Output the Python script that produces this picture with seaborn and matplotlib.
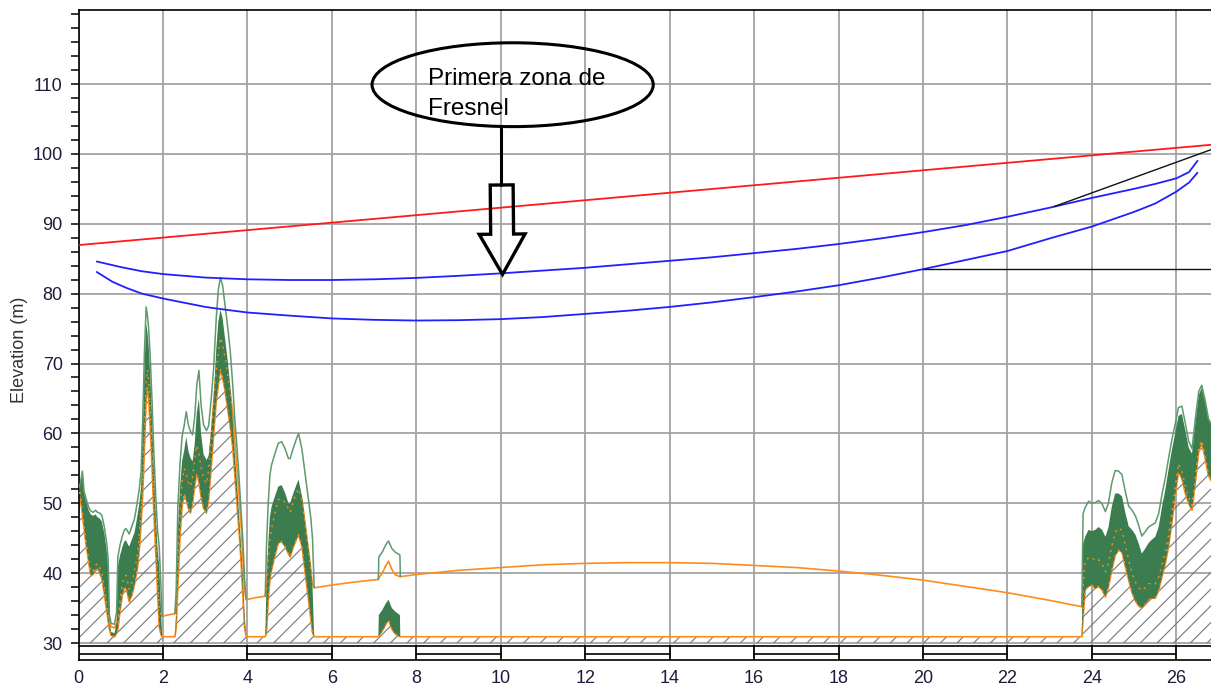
import numpy as np
import pandas as pd
import matplotlib
matplotlib.use("Agg")
import matplotlib.pyplot as plt
import seaborn as sns
from matplotlib.patches import Ellipse, FancyArrowPatch, ArrowStyle
from matplotlib.ticker import FixedLocator

# ---------------- path profile (km, m) ----------------
# distance along the path
KM = [
    0.00, 0.03, 0.09, 0.13, 0.18, 0.24, 0.29, 0.34, 0.40, 0.45, 0.50, 0.55, 0.61, 0.66, 0.70, 0.73,
    0.77, 0.85, 0.90, 0.93, 0.98, 1.04, 1.08, 1.12, 1.16, 1.20, 1.26, 1.32, 1.36, 1.40, 1.44, 1.48,
    1.52, 1.56, 1.60, 1.63, 1.66, 1.70, 1.74, 1.78, 1.83, 1.87, 1.91, 1.95, 1.98, 2.10, 2.28,
    2.31, 2.35, 2.40, 2.45, 2.50, 2.55, 2.60, 2.65, 2.70, 2.75, 2.80, 2.85, 2.90, 2.96, 3.03, 3.08,
    3.14, 3.20, 3.26, 3.31, 3.36, 3.41, 3.47, 3.53, 3.59, 3.65, 3.70, 3.75, 3.80, 3.85, 3.89, 3.93,
    3.97, 4.20,
    4.42, 4.45, 4.49, 4.53, 4.57, 4.65, 4.73, 4.81, 4.89, 4.97, 5.01, 5.09, 5.17, 5.21, 5.29, 5.36,
    5.44, 5.50, 5.54, 5.58, 6.00, 6.50,
    7.10, 7.11, 7.20, 7.27, 7.34, 7.42, 7.50, 7.61, 7.62,
    8, 9, 10, 11, 12, 13, 14, 15, 16, 17, 18, 19, 20, 21, 22, 23, 23.5,
    23.76, 23.79, 23.84, 23.92, 24.00, 24.08, 24.16, 24.24, 24.32, 24.39, 24.47, 24.55, 24.63, 24.71,
    24.79, 24.87, 24.95, 25.03, 25.11, 25.18, 25.26, 25.34, 25.42, 25.50, 25.58, 25.66, 25.74, 25.82,
    25.89, 25.97, 26.05, 26.13, 26.21, 26.29, 26.37, 26.45, 26.53, 26.60, 26.68, 26.76, 26.83,
]
# bare terrain elevation
GROUND = [
    52.6, 51.5, 48.5, 46.5, 44.0, 41.5, 39.6, 39.8, 40.5, 40.7, 40.0, 39.2, 37.0, 34.8, 33.2, 32.0,
    31.1, 30.9, 31.4, 32.0, 34.5, 37.0, 37.8, 38.0, 37.0, 35.9, 36.8, 38.2, 39.5, 40.9, 43.5, 47.0,
    51.5, 58.0, 64.5, 66.7, 65.0, 60.5, 55.0, 49.0, 42.5, 37.0, 32.3, 31.2, 30.9, 30.9, 30.9,
    32.0, 38.0, 45.0, 49.5, 51.4, 50.5, 49.3, 48.6, 50.0, 52.5, 54.3, 53.0, 51.0, 49.3, 48.6, 50.5,
    55.0, 60.0, 64.5, 67.0, 69.1, 68.0, 66.0, 63.5, 61.0, 58.0, 54.0, 50.0, 46.0, 41.5, 37.0, 32.3,
    30.9, 30.9,
    30.9, 31.5, 36.0, 39.0, 40.4, 42.5, 44.3, 44.5, 43.8, 42.8, 42.3, 43.8, 45.0, 45.5, 43.8, 40.4,
    36.6, 33.5, 31.5, 30.9, 30.9, 30.9,
    30.9, 31.0, 31.8, 32.6, 33.3, 32.0, 31.3, 30.9, 30.9,
    30.9, 30.9, 30.9, 30.9, 30.9, 30.9, 30.9, 30.9, 30.9, 30.9, 30.9, 30.9, 30.9, 30.9, 30.9, 30.9, 30.9,
    30.9, 33.5, 37.6, 38.1, 38.3, 37.8, 38.1, 37.6, 36.6, 38.0, 40.4, 42.5, 43.3, 43.0,
    41.0, 39.0, 37.2, 36.0, 35.3, 35.0, 35.5, 36.2, 36.4, 36.4, 37.5, 39.5, 41.4, 44.0,
    47.0, 51.0, 54.5, 53.5, 51.5, 50.0, 49.0, 53.0, 57.5, 58.6, 56.5, 54.0, 53.2,
]
# top of vegetation / clutter
CLUTTER = [
    52.6, 52.5, 54.5, 51.5, 50.3, 49.0, 48.4, 48.2, 48.4, 48.0, 47.8, 47.4, 45.7, 43.5, 41.0, 33.0,
    31.6, 31.4, 33.0, 40.9, 42.5, 43.8, 44.5, 44.7, 44.2, 43.8, 44.8, 45.7, 47.0, 48.5, 50.0, 52.4,
    60.0, 69.5, 75.7, 74.5, 72.5, 68.0, 62.0, 55.0, 48.0, 43.5, 40.9, 35.0, 30.9, 30.9, 30.9,
    34.0, 46.0, 52.0, 56.0, 57.5, 59.5, 57.5, 56.5, 56.0, 58.5, 63.0, 65.0, 60.0, 57.0, 56.2, 56.8,
    60.5, 65.0, 72.0, 76.0, 77.7, 76.5, 73.5, 70.5, 67.0, 62.0, 57.0, 53.0, 48.5, 43.5, 39.5, 34.0,
    30.9, 30.9,
    30.9, 38.0, 44.0, 48.0, 49.5, 51.0, 52.4, 52.6, 51.5, 50.0, 50.0, 51.5, 52.8, 53.4, 51.0, 47.6,
    43.8, 41.0, 38.0, 30.9, 30.9, 30.9,
    30.9, 34.0, 34.8, 35.6, 36.2, 35.0, 34.5, 34.0, 30.9,
    30.9, 30.9, 30.9, 30.9, 30.9, 30.9, 30.9, 30.9, 30.9, 30.9, 30.9, 30.9, 30.9, 30.9, 30.9, 30.9, 30.9,
    30.9, 44.2, 45.2, 46.2, 46.0, 46.2, 46.6, 46.2, 45.2, 46.5, 49.5, 51.4, 51.4, 51.0,
    48.7, 46.7, 46.2, 45.5, 44.2, 42.8, 43.5, 44.3, 44.8, 45.2, 46.6, 49.5, 52.0, 55.0,
    57.5, 60.0, 62.5, 62.8, 60.5, 58.0, 57.1, 61.5, 65.5, 66.5, 64.5, 62.0, 61.3,
]
# earth bulge (k = 4/3) added to the profile
BULGE = [
    0.0, 0.0, 0.1, 0.2, 0.3, 0.4, 0.5, 0.5, 0.6, 0.7, 0.8, 0.9, 0.9, 1.0, 1.1, 1.1,
    1.2, 1.3, 1.4, 1.4, 1.5, 1.6, 1.6, 1.7, 1.8, 1.8, 1.9, 2.0, 2.0, 2.1, 2.2, 2.2,
    2.3, 2.3, 2.4, 2.4, 2.5, 2.5, 2.6, 2.6, 2.7, 2.7, 2.8, 2.9, 2.9, 3.1, 3.3,
    3.3, 3.4, 3.5, 3.5, 3.6, 3.6, 3.7, 3.8, 3.8, 3.9, 4.0, 4.0, 4.1, 4.2, 4.2, 4.3,
    4.4, 4.5, 4.5, 4.6, 4.6, 4.7, 4.8, 4.8, 4.9, 5.0, 5.0, 5.1, 5.2, 5.2, 5.3, 5.3,
    5.3, 5.6,
    5.8, 5.9, 5.9, 6.0, 6.0, 6.1, 6.2, 6.2, 6.3, 6.4, 6.4, 6.5, 6.6, 6.6, 6.7, 6.8,
    6.9, 6.9, 6.9, 7.0, 7.4, 7.8,
    8.2, 8.3, 8.3, 8.4, 8.4, 8.5, 8.5, 8.6, 8.6,
    8.9, 9.5, 9.9, 10.3, 10.5, 10.6, 10.6, 10.5, 10.2, 9.9, 9.4, 8.8, 8.1, 7.2, 6.3, 5.2, 4.6,
    4.3, 4.3, 4.2, 4.1, 4.0, 3.9, 3.8, 3.7, 3.6, 3.5, 3.4, 3.3, 3.2, 3.1,
    3.0, 2.9, 2.8, 2.7, 2.6, 2.5, 2.4, 2.3, 2.1, 2.0, 1.9, 1.8, 1.7, 1.6,
    1.5, 1.3, 1.2, 1.1, 1.0, 0.9, 0.7, 0.6, 0.5, 0.4, 0.3, 0.1, 0.0,
]

# Fresnel zone boundaries
FZ1_KM = [0.43, 1.0, 1.5, 2.0, 3.0, 4.0, 5.0, 6.0, 7.0, 8.0, 9.0, 10.0, 11.0, 12.0, 13.0, 14.0,
          15.0, 16.0, 17.0, 18.0, 19.0, 20.0, 21.0, 22.0, 23.0, 24.0, 25.0, 25.5, 26.0, 26.3, 26.5]
FZ1_ELEV = [84.6, 83.8, 83.2, 82.8, 82.3, 82.05, 81.95, 81.95, 82.05, 82.25, 82.55, 82.9, 83.3,
            83.7, 84.2, 84.7, 85.2, 85.8, 86.4, 87.1, 87.9, 88.8, 89.8, 91.0, 92.3, 93.7, 95.0,
            95.7, 96.5, 97.4, 99.0]
FZ2_KM = [0.43, 0.8, 1.14, 1.5, 2.0, 3.0, 3.35, 4.0, 5.0, 6.0, 7.0, 8.0, 9.0, 10.0, 11.0, 12.0,
          13.0, 14.0, 15.0, 16.0, 17.0, 18.0, 19.0, 20.0, 21.0, 22.0, 23.0, 24.0, 25.0, 25.5,
          26.0, 26.3, 26.5]
FZ2_ELEV = [83.1, 81.7, 80.8, 80.0, 79.3, 78.1, 77.8, 77.3, 76.85, 76.45, 76.25, 76.15, 76.2,
            76.35, 76.65, 77.1, 77.55, 78.1, 78.75, 79.5, 80.3, 81.2, 82.3, 83.5, 84.8, 86.1,
            87.9, 89.6, 91.7, 92.9, 94.6, 95.9, 97.3]

# line of sight and reference lines
LOS_KM = [0.0, 26.82]
LOS_ELEV = [86.95, 101.3]
REF1_KM = [23.1, 26.82]
REF1_ELEV = [92.45, 100.6]
REF2_KM = [20.0, 26.82]
REF2_ELEV = [83.5, 83.5]

X_TICKS = list(range(0, 27, 2))
Y_TICKS = list(range(30, 111, 10))
Y_MINOR = [v for v in range(30, 121, 2) if v % 10 != 0 or v > 110]
Y_LABEL = "Elevation (m)"
NOTE_TEXT = "Primera zona de\nFresnel"

assert len(KM) == len(GROUND) == len(CLUTTER) == len(BULGE)

# ---------------- figure ----------------
sns.set_theme(style="white")
plt.rcParams["font.family"] = ["Liberation Sans", "DejaVu Sans"]
plt.rcParams["hatch.linewidth"] = 0.8

W, H = 1211, 687
fig = plt.figure(figsize=(W / 100, H / 100), dpi=100, facecolor="white")
ax = fig.add_axes([78.6 / W, 27 / H, 1 - 78.6 / W, 650 / H])
ax.set_facecolor("white")

XMAX = 26.82
YMIN, YMAX = 27.57, 120.59
ax.set_xlim(0, XMAX)
ax.set_ylim(YMIN, YMAX)

km = np.array(KM, float)
ground = np.array(GROUND, float)
clutter = np.array(CLUTTER, float)
bulge = np.array(BULGE, float)
ground_k = ground + bulge
clutter_k = clutter + bulge
veg = clutter > ground + 0.05
veg_edge = veg | np.roll(veg, 1) | np.roll(veg, -1)

ORANGE = "#ff8c1a"
GREEN = "#3b7d4e"
LIGHT_GREEN = "#5d9a6c"

# terrain hatch
ax.fill_between(km, 30, ground, facecolor="none", edgecolor="#767676",
                hatch="//", linewidth=0, zorder=1)
# orange profiles (bare and with earth bulge)
ax.plot(km, ground, color=ORANGE, lw=1.2, zorder=2)
ax.plot(km, ground_k, color=ORANGE, lw=1.2, zorder=2)
# vegetation band
ax.fill_between(km, ground, clutter, where=veg_edge, facecolor=GREEN,
                edgecolor="none", linewidth=0, zorder=3)
ax.plot(km, np.where(veg_edge, ground, np.nan), color=ORANGE, lw=1.0,
        ls=(0, (1.5, 3.5)), zorder=4)
ax.plot(km, np.where(veg_edge, ground_k, np.nan), color=ORANGE, lw=1.0,
        ls=(0, (1.5, 3.5)), zorder=4)
ax.plot(km, np.where(veg_edge, clutter_k, np.nan), color=LIGHT_GREEN, lw=1.1, zorder=4)

# Fresnel zone, line of sight, reference lines
sns.lineplot(x=FZ1_KM, y=FZ1_ELEV, ax=ax, color="#2020ff", lw=1.3,
             estimator=None, sort=False, zorder=5)
sns.lineplot(x=FZ2_KM, y=FZ2_ELEV, ax=ax, color="#2020ff", lw=1.3,
             estimator=None, sort=False, zorder=5)
sns.lineplot(x=LOS_KM, y=LOS_ELEV, ax=ax, color="#ff1a1a", lw=1.3,
             estimator=None, sort=False, zorder=5)
sns.lineplot(x=REF1_KM, y=REF1_ELEV, ax=ax, color="#111111", lw=1.0,
             estimator=None, sort=False, zorder=5)
sns.lineplot(x=REF2_KM, y=REF2_ELEV, ax=ax, color="#111111", lw=1.0,
             estimator=None, sort=False, zorder=5)

# ---------------- axes styling ----------------
ax.xaxis.set_major_locator(FixedLocator(X_TICKS))
ax.yaxis.set_major_locator(FixedLocator(Y_TICKS))
ax.yaxis.set_minor_locator(FixedLocator(Y_MINOR))
ax.set_xticklabels([str(v) for v in X_TICKS])
ax.set_yticklabels([str(v) for v in Y_TICKS])
ax.grid(True, which="major", color="#a3a3a3", lw=1.3, zorder=0.5)
ax.set_axisbelow(True)

TICK_COLOR = "#1c1c3c"
ax.tick_params(axis="x", length=0, pad=7, labelsize=13, labelcolor=TICK_COLOR)
ax.tick_params(axis="y", which="both", direction="out", length=6, width=1.1,
               color="black", left=True, pad=5.5, labelsize=13, labelcolor=TICK_COLOR)

for side in ("left", "top", "bottom"):
    ax.spines[side].set_visible(True)
    ax.spines[side].set_color("black")
    ax.spines[side].set_linewidth(1.2)
ax.spines["right"].set_visible(False)

ax.set_xlabel("")
ax.set_ylabel(Y_LABEL, fontsize=13, color="#333333")
ax.yaxis.set_label_coords(-0.045, 0.477)

# distance scale bar under the profile
bar_top, bar_mid = 29.57, 28.43
ax.plot([0, XMAX], [bar_top, bar_top], color="black", lw=1.2, zorder=6, clip_on=False)
for x0 in X_TICKS[::2]:
    ax.plot([x0, min(x0 + 2, XMAX)], [bar_mid, bar_mid], color="black", lw=1.2, zorder=6)
for x0 in X_TICKS[1:]:
    ax.plot([x0, x0], [YMIN, bar_top], color="black", lw=1.2, zorder=6)

# ---------------- annotation ----------------
ax.add_patch(Ellipse((10.28, 109.9), 6.66, 12.0, facecolor="none",
                     edgecolor="black", lw=2.2, zorder=7))
ax.text(8.28, 108.6, NOTE_TEXT, ha="left", va="center", fontsize=17.5,
        linespacing=1.45, color="black", zorder=7)
ax.plot([10.0, 10.0], [103.85, 95.55], color="black", lw=2.2, zorder=7)
arrow = FancyArrowPatch((10.02, 95.55), (10.04, 82.75),
                        arrowstyle=ArrowStyle("Simple", head_length=29, head_width=33,
                                              tail_width=16.5),
                        mutation_scale=1, shrinkA=0, shrinkB=0, facecolor="none",
                        edgecolor="black", lw=2.4, joinstyle="miter", zorder=7)
ax.add_patch(arrow)

fig.savefig("out.png", dpi=100, facecolor="white")
